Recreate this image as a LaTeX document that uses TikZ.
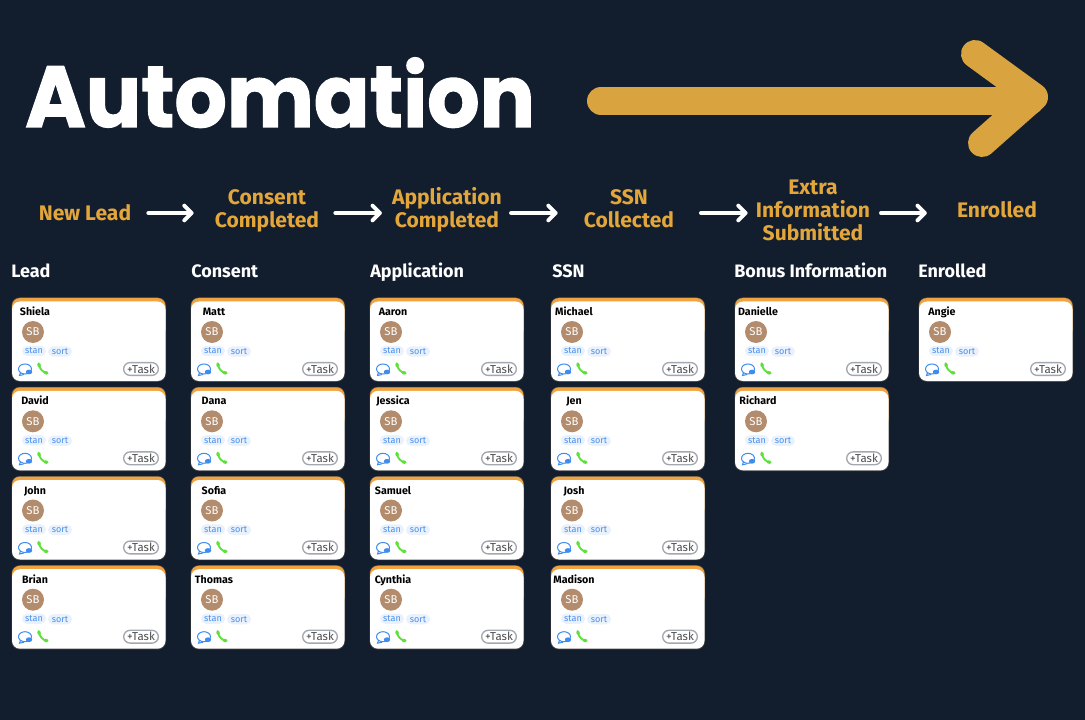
\documentclass[tikz,border=0pt]{standalone}
\usepackage{xcolor}
\usepackage{fontspec}
\usetikzlibrary{arrows.meta}
\setmainfont{Fira Sans}
\newfontfamily\titlefont[FakeBold=1.5]{Poppins Bold}
\definecolor{pagebg}{HTML}{121D2E}
\definecolor{gold}{HTML}{D9A33F}
\definecolor{flowgold}{HTML}{E3A63A}
\definecolor{cardtop}{HTML}{F0A33E}
\definecolor{avatar}{HTML}{B28C6C}
\definecolor{tagfill}{HTML}{E8F1FC}
\definecolor{tagtext}{HTML}{4A90EE}
\definecolor{chatblue}{HTML}{3F8CEF}
\definecolor{phonegreen}{HTML}{5FE03A}
\definecolor{taskline}{HTML}{A3A7B0}
\tikzset{
  flowlabel/.style={text=flowgold, font=\fontsize{15.8}{17.2}\selectfont\bfseries, align=center, inner sep=0pt},
  flowarrow/.style={white, line width=3pt, line cap=round, -{Straight Barb[length=5.5pt, width=11pt, line width=3pt, round]}},
  colhead/.style={text=white, font=\fontsize{13.5}{14}\selectfont\bfseries, anchor=base west, inner sep=0pt},
  cardname/.style={font=\fontsize{8}{9}\selectfont\bfseries, text=black, inner sep=0pt, anchor=base},
  avatardot/.style={circle, fill=avatar, minimum size=16.5pt, inner sep=0pt, text=white, font=\fontsize{8.5}{9}\selectfont},
  tagpill/.style={rounded corners=3.8pt, fill=tagfill, text=tagtext, minimum width=18pt, minimum height=7.6pt, inner sep=0pt, font=\fontsize{6.8}{7}\selectfont},
  taskpill/.style={rounded corners=4.8pt, draw=taskline, line width=1pt, fill=white, text=black!70, minimum width=26pt, minimum height=9.6pt, inner sep=0pt, font=\fontsize{8.6}{9}\selectfont},
}
% one card: id, name, left, top
\newcommand{\taskcard}[4]{
  \begin{scope}[shift={(#3,#4)}]
    \fill[black!70, rounded corners=6pt] (-0.5,-0.5) rectangle (154,83.7);
    \fill[cardtop, rounded corners=6pt] (0,0) rectangle (153.5,40);
    \fill[white, rounded corners=6pt] (0,3.5) rectangle (153.5,83);
    \node[cardname] (#1name) at (23,17.5) {#2};
    \node[avatardot] (#1face) at (21,34) {SB};
    \node[tagpill] (#1stan) at (22,53) {stan};
    \node[tagpill] (#1sort) at (48,53.5) {sort};
    \node[taskpill] (#1task) at (129,71) {+Task};
    % chat icon
    \draw[chatblue, line width=0.75pt] (13,71) ellipse (6.5 and 5);
    \draw[chatblue, line width=0.75pt] (8.5,74.5) -- (7.5,77.5) -- (12,76.5);
    \fill[chatblue] (17,74) ellipse (3.2 and 2.4);
    % phone icon
    \draw[phonegreen, line width=1.4pt, line cap=round] (27,66.5) .. controls (27.5,71) and (31,74.5) .. (35,75);
    \draw[phonegreen, line width=2.4pt, line cap=round] (26.8,66) -- (27.3,68);
    \draw[phonegreen, line width=2.4pt, line cap=round] (33,74.6) -- (35,75);
  \end{scope}
}
\begin{document}
\begin{tikzpicture}[x=0.75pt, y=-0.75pt]
  \fill[pagebg] (0,0) rectangle (1085,720);
  \node[text=white, font=\fontsize{65}{70}\selectfont\titlefont, anchor=base west, inner sep=0pt] (title) at (25,127) {\scalebox{0.948}[1]{Automation}};
  % big arrow
  \draw[gold, line width=21pt, line cap=round] (601,101) -- (1030,101);
  \draw[gold, line width=21pt, line cap=round, line join=round] (975,54) -- (1034,97) -- (982,143);
  % flow labels
  \node[flowlabel] (newlead) at (85,213) {New Lead};
  \node[flowlabel] (consent) at (267,210.5) {Consent\\Completed};
  \node[flowlabel] (application) at (447,209.5) {Application\\Completed};
  \node[flowlabel] (ssn) at (629,208.5) {SSN\\Collected};
  \node[flowlabel] (extra) at (813,210) {Extra\\Information\\Submitted};
  \node[flowlabel] (enrolled) at (997,210) {Enrolled};
  \draw[flowarrow, shorten <=12.75pt, shorten >=15.75pt] (newlead.east |- 0,213) -- (consent.west |- 0,213);
  \draw[flowarrow, shorten <=12pt, shorten >=7.5pt] (consent.east |- 0,213) -- (application.west |- 0,213);
  \draw[flowarrow, shorten <=6.75pt, shorten >=19.5pt] (application.east |- 0,213) -- (ssn.west |- 0,213);
  \draw[flowarrow, shorten <=20pt, shorten >=6pt] (ssn.east |- 0,213) -- (extra.west |- 0,213);
  \draw[flowarrow, shorten <=8pt, shorten >=22.5pt] (extra.east |- 0,213) -- (enrolled.west |- 0,213);
  % column heads
  \node[colhead] (headlead) at (11,278) {Lead};
  \node[colhead] (headconsent) at (191,278) {Consent};
  \node[colhead] (headapp) at (370,278) {Application};
  \node[colhead] (headssn) at (552,278) {SSN};
  \node[colhead] (headbonus) at (734,278) {Bonus Information};
  \node[colhead] (headenrolled) at (918,278) {Enrolled};
  % cards
  \taskcard{shiela}{Shiela}{12}{298}
  \taskcard{david}{David}{12}{387.3}
  \taskcard{john}{John}{12}{476.5}
  \taskcard{brian}{Brian}{12}{565.7}
  \taskcard{matt}{Matt}{191}{298}
  \taskcard{dana}{Dana}{191}{387.3}
  \taskcard{sofia}{Sofia}{191}{476.5}
  \taskcard{thomas}{Thomas}{191}{565.7}
  \taskcard{aaron}{Aaron}{370}{298}
  \taskcard{jessica}{Jessica}{370}{387.3}
  \taskcard{samuel}{Samuel}{370}{476.5}
  \taskcard{cynthia}{Cynthia}{370}{565.7}
  \taskcard{michael}{Michael}{551}{298}
  \taskcard{jen}{Jen}{551}{387.3}
  \taskcard{josh}{Josh}{551}{476.5}
  \taskcard{madison}{Madison}{551}{565.7}
  \taskcard{danielle}{Danielle}{735}{298}
  \taskcard{richard}{Richard}{735}{387.3}
  \taskcard{angie}{Angie}{919}{298}
\end{tikzpicture}
\end{document}
